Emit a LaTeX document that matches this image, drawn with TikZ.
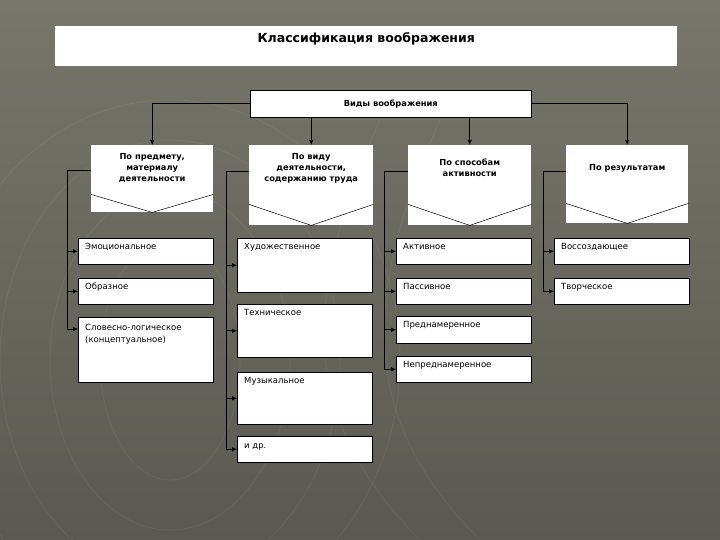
\documentclass[tikz,border=0pt]{standalone}
\usepackage{fontspec}
\setmainfont{DejaVu Sans}
\usepackage{xcolor}
\usepackage{tikz}
\usetikzlibrary{arrows.meta}

\definecolor{fundotopo}{HTML}{76766B}
\definecolor{fundobaixo}{HTML}{5A5A52}

\begin{document}
\begin{tikzpicture}[
    x=1pt, y=-1pt,
    caixa/.style={draw=black, fill=white, line width=0.6pt, anchor=north west,
        minimum width=135pt, minimum height=26pt, inner sep=0pt},
    categoria/.style={fill=white, anchor=north west, inner sep=0pt},
    rotulo/.style={anchor=north west, xshift=7pt, yshift=-5pt, inner sep=0pt,
        align=left, font=\fontsize{8.5}{12}\selectfont},
    rotulocat/.style={anchor=center, yshift=-23pt, inner sep=0pt,
        align=center, font=\bfseries\fontsize{8.3}{11}\selectfont},
    liga/.style={draw=black, line width=0.7pt},
    seta/.style={liga, -{Latex[length=5pt, width=4.5pt]}},
    bico/.style={draw=black, line width=0.5pt},
]

% Фон
\useasboundingbox (0,0) rectangle (720,540);
\shade[top color=fundotopo, bottom color=fundobaixo] (0,0) rectangle (720,540);
\begin{scope}[draw=white, opacity=0.06, line width=0.8pt]
    \clip (0,0) rectangle (720,540);
    \draw (170,360) ellipse (70 and 120);
    \draw (170,360) ellipse (120 and 170);
    \draw (170,360) ellipse (170 and 220);
    \draw (170,360) ellipse (230 and 260);
    \draw (380,120) .. controls (300,300) and (300,420) .. (420,540);
    \draw (440,120) .. controls (360,300) and (360,420) .. (480,540);
\end{scope}

% Заголовок
\node[categoria, minimum width=622pt, minimum height=40pt,
    label={[anchor=center, yshift=-13pt, font=\bfseries\fontsize{12.5}{14}\selectfont]north:Классификация воображения}]
    (titulo) at (55,26) {};

% Виды воображения
\node[caixa, minimum width=281pt, minimum height=27pt,
    font=\bfseries\fontsize{8.3}{10}\selectfont] (vidy) at (250,90) {Виды воображения};

% Категории
\node[categoria, minimum width=122pt, minimum height=67pt,
    label={[rotulocat]north:По предмету,\\материалу\\деятельности}] (predmet) at (91,145) {};
\node[categoria, minimum width=124pt, minimum height=80pt,
    label={[rotulocat]north:По виду\\деятельности,\\содержанию труда}] (vid) at (249,145) {};
\node[categoria, minimum width=123pt, minimum height=80pt,
    label={[rotulocat]north:По способам\\активности}] (sposob) at (408,145) {};
\node[categoria, minimum width=122pt, minimum height=78pt,
    label={[rotulocat]north:По результатам}] (rezult) at (566,145) {};

\draw[bico] ([yshift=18pt]predmet.south west) -- (predmet.south) -- ([yshift=18pt]predmet.south east);
\draw[bico] ([yshift=21pt]vid.south west) -- (vid.south) -- ([yshift=21pt]vid.south east);
\draw[bico] ([yshift=21pt]sposob.south west) -- (sposob.south) -- ([yshift=21pt]sposob.south east);
\draw[bico] ([yshift=20pt]rezult.south west) -- (rezult.south) -- ([yshift=20pt]rezult.south east);

% Стрелки от корня
\draw[seta] (vidy.west) -| (predmet.north);
\draw[seta] (vid.north |- vidy.south) -- (vid.north);
\draw[seta, line width=1.3pt] (sposob.north |- vidy.south) -- (sposob.north);
\draw[seta] (vidy.east) -| (rezult.north);

% По предмету
\node[caixa, label={[rotulo]north west:Эмоциональное}] (emoc) at (78,238) {};
\node[caixa, label={[rotulo]north west:Образное}] (obraz) at (78,278) {};
\node[caixa, minimum height=65pt,
    label={[rotulo, yshift=-2pt]north west:Словесно-логическое\\(концептуальное)}] (slov) at (78,317) {};

% По виду деятельности
\node[caixa, minimum height=54pt, label={[rotulo]north west:Художественное}] (hud) at (237,238) {};
\node[caixa, minimum height=53pt, label={[rotulo]north west:Техническое}] (tehn) at (237,304) {};
\node[caixa, minimum height=52pt, label={[rotulo]north west:Музыкальное}] (muz) at (237,372) {};
\node[caixa, label={[rotulo, yshift=-3pt]north west:и др.}] (idr) at (237,436) {};

% По способам активности
\node[caixa, label={[rotulo]north west:Активное}] (aktiv) at (396,238) {};
\node[caixa, label={[rotulo]north west:Пассивное}] (passiv) at (396,278) {};
\node[caixa, minimum height=27pt, label={[rotulo]north west:Преднамеренное}] (prednam) at (396,316) {};
\node[caixa, label={[rotulo]north west:Непреднамеренное}] (nepred) at (396,356) {};

% По результатам
\node[caixa, label={[rotulo]north west:Воссоздающее}] (vossoz) at (554,238) {};
\node[caixa, label={[rotulo]north west:Творческое}] (tvorch) at (554,278) {};

% Оси
\coordinate (eixo1) at ([xshift=-11pt]emoc.west);
\coordinate (eixo2) at ([xshift=-11pt]hud.west);
\coordinate (eixo3) at ([xshift=-12pt]aktiv.west);
\coordinate (eixo4) at ([xshift=-11pt]vossoz.west);
\coordinate (slov-in) at ([yshift=-12pt]slov.north west);

\draw[liga] ([yshift=-25pt]predmet.north west) -| (eixo1 |- slov-in);
\draw[seta] (eixo1 |- emoc.west) -- (emoc.west);
\draw[seta] (eixo1 |- obraz.west) -- (obraz.west);
\draw[seta] (eixo1 |- slov-in) -- (slov-in);

\draw[liga] ([yshift=-26pt]vid.north west) -| (eixo2 |- idr.west);
\draw[seta] (eixo2 |- hud.west) -- (hud.west);
\draw[seta] (eixo2 |- tehn.west) -- (tehn.west);
\draw[seta] (eixo2 |- muz.west) -- (muz.west);
\draw[seta] (eixo2 |- idr.west) -- (idr.west);

\draw[liga] ([yshift=-26pt]sposob.north west) -| (eixo3 |- nepred.west);
\draw[seta] (eixo3 |- aktiv.west) -- (aktiv.west);
\draw[seta] (eixo3 |- passiv.west) -- (passiv.west);
\draw[seta] (eixo3 |- prednam.west) -- (prednam.west);
\draw[seta] (eixo3 |- nepred.west) -- (nepred.west);

\draw[liga] ([yshift=-26pt]rezult.north west) -| (eixo4 |- tvorch.west);
\draw[seta] (eixo4 |- vossoz.west) -- (vossoz.west);
\draw[seta] (eixo4 |- tvorch.west) -- (tvorch.west);

\end{tikzpicture}
\end{document}
